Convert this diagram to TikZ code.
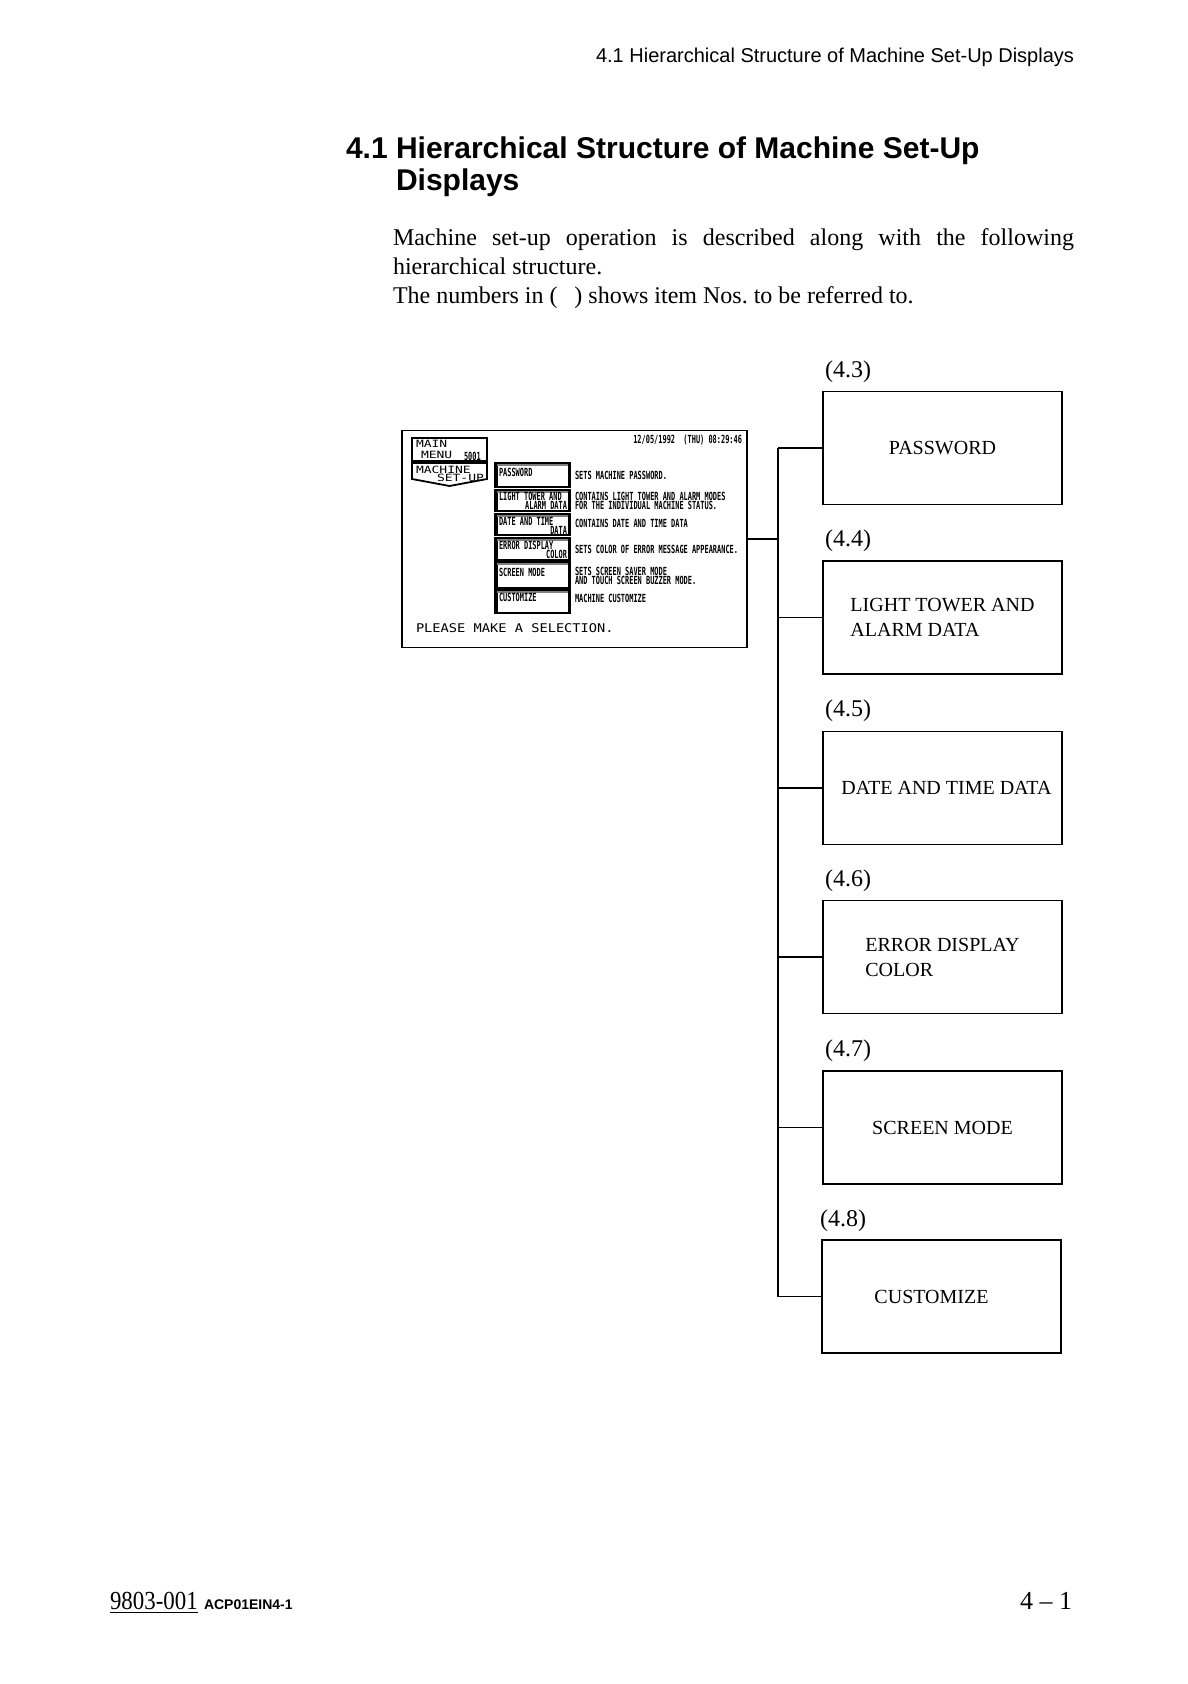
\documentclass[tikz,border=0pt]{standalone}
\usepackage{fontspec}
\setmainfont{Liberation Serif}
\setsansfont{Liberation Sans}
\newfontfamily\scrfont{DejaVu Sans Mono}
\newcommand{\scrB}[1]{\scalebox{0.62}[1]{\scrfont\bfseries\fontsize{5.6}{5.6}\selectfont #1}}
\newcommand{\scrR}[1]{\scalebox{1.14}[1]{\scrfont\fontsize{6}{6}\selectfont #1}}
\newcommand{\scrT}[1]{\scalebox{1.3}[1]{\scrfont\fontsize{5}{5}\selectfont #1}}
\begin{document}
\begin{tikzpicture}[x=0.5pt,y=-0.5pt,
  every node/.style={inner sep=0pt, outer sep=0pt},
  itembox/.style={draw, line width=0.75pt, minimum width=119.5pt, minimum height=56.5pt,
     align=left, font=\fontsize{10}{12.5}\selectfont},
  refno/.style={anchor=west, font=\fontsize{12}{14}\selectfont},
  link/.style={line width=0.65pt},
  tab/.style={line width=0.9pt},
  button/.style={line width=0.6pt},
  buttonside/.style={line width=1.5pt},
]
\useasboundingbox (0,0) rectangle (1187,1684);

% running header
\node[anchor=east, font=\sffamily\fontsize{10}{12}\selectfont] (hdr) at (1074,57)
  {4.1 Hierarchical Structure of Machine Set-Up Displays};

% title
\node[anchor=base west, font=\sffamily\bfseries\fontsize{15}{18}\selectfont] (title1) at (346,159)
  {4.1 Hierarchical Structure of Machine Set-Up};
\node[anchor=base west, font=\sffamily\bfseries\fontsize{15}{18}\selectfont] (title2) at (396,191)
  {Displays};

% body text
\node[anchor=base west, text width=340.5pt, align=justify, font=\fontsize{12}{14.3}\selectfont] (body) at (393,246)
  {\tolerance=9999 \hyphenpenalty=10000 \exhyphenpenalty=10000 \frenchspacing
   Machine set-up operation is described along with the following hierarchical structure.\par
   The numbers in (\hspace{0.7em}) shows item Nos. to be referred to.};

% ---------- screen mock-up ----------
\node[draw, line width=0.6pt, minimum width=172.5pt, minimum height=108.5pt] (screen) at (574.5,539) {};

\draw[tab] (412,438) rectangle (487,461);
\draw[tab] (412,463) -- (487,463) -- (487,479) -- (449.5,486) -- (412,479) -- cycle;
\node[anchor=west] (smain) at (416,444) {\scrT{MAIN}};
\node[anchor=west] (smenu) at (421,455) {\scrT{MENU}};
\node[anchor=west] (snum) at (464,456) {\scrB{5001}};
\node[anchor=west] (smach) at (416,469.5) {\scrT{MACHINE}};
\node[anchor=west] (sset) at (437,477.5) {\scrT{SET-UP}};

\node[anchor=east] (sdate) at (742,440) {\scrB{12/05/1992 \ (THU) 08:29:46}};

\foreach \ya/\yb in {463/487, 490/511, 514/535, 538/560, 562/588, 590/613}{
  \draw[button] (495,\ya) rectangle (570,\yb);
  \draw[buttonside] (496,\ya) -- (496,\yb);
  \draw[buttonside] (569,\ya) -- (569,\yb);
  \draw[line width=1pt, gray] (497,\ya+1.5) -- (568,\ya+1.5);
}

\node[anchor=west] (bp) at (499,472) {\scrB{PASSWORD}};
\node[anchor=west] (bl1) at (499,496) {\scrB{LIGHT TOWER AND}};
\node[anchor=east] (bl2) at (567,505) {\scrB{ALARM DATA}};
\node[anchor=west] (bd1) at (499,521) {\scrB{DATE AND TIME}};
\node[anchor=east] (bd2) at (567,530) {\scrB{DATA}};
\node[anchor=west] (be1) at (499,545) {\scrB{ERROR DISPLAY}};
\node[anchor=east] (be2) at (567,554) {\scrB{COLOR}};
\node[anchor=west] (bs) at (499,572) {\scrB{SCREEN MODE}};
\node[anchor=west] (bc) at (499,597) {\scrB{CUSTOMIZE}};

\node[anchor=west] (dp) at (575,475) {\scrB{SETS MACHINE PASSWORD.}};
\node[anchor=west] (dl1) at (575,496) {\scrB{CONTAINS LIGHT TOWER AND ALARM MODES}};
\node[anchor=west] (dl2) at (575,505) {\scrB{FOR THE INDIVIDUAL MACHINE STATUS.}};
\node[anchor=west] (dd) at (575,523) {\scrB{CONTAINS DATE AND TIME DATA}};
\node[anchor=west] (de) at (575,549) {\scrB{SETS COLOR OF ERROR MESSAGE APPEARANCE.}};
\node[anchor=west] (ds1) at (575,571) {\scrB{SETS SCREEN SAVER MODE}};
\node[anchor=west] (ds2) at (575,580) {\scrB{AND TOUCH SCREEN BUZZER MODE.}};
\node[anchor=west] (dc) at (575,598) {\scrB{MACHINE CUSTOMIZE}};

\node[anchor=west] (sel) at (416,628) {\scrR{PLEASE MAKE A SELECTION.}};

% ---------- hierarchy boxes ----------
\node[refno] (r3) at (825,372) {(4.3)};
\node[itembox] (b3) at (942.5,448) {PASSWORD};
\node[refno] (r4) at (825,541) {(4.4)};
\node[itembox] (b4) at (942.5,617.5) {LIGHT TOWER AND\\ALARM DATA};
\node[refno] (r5) at (825,711) {(4.5)};
\node[itembox] (b5) at (942.5,788) {\kern4pt DATE AND TIME DATA};
\node[refno] (r6) at (825,881) {(4.6)};
\node[itembox] (b6) at (942.5,957) {ERROR DISPLAY\\COLOR};
\node[refno] (r7) at (825,1051) {(4.7)};
\node[itembox] (b7) at (942.5,1127.5) {SCREEN MODE};
\node[refno] (r8) at (820,1221) {(4.8)};
\node[itembox] (b8) at (941.5,1296.5) {CUSTOMIZE\kern10pt};

% connectors
\draw[link] (b3.west) -- ++(-45,0) coordinate (ttop);
\draw[link] (b8.west) -- ++(-44,0) coordinate (tbot);
\draw[link] (ttop) -- (tbot);
\foreach \b in {b4,b5,b6,b7} \draw[link] (\b.west) -- (\b.west -| ttop);
\draw[link] (screen.east) -- (screen.east -| ttop);

% footer
\node[anchor=base west, font=\fontsize{13}{15}\selectfont] (docno) at (110,1609)
  {\scalebox{0.88}[1]{\underline{9803-001}}};
\node[anchor=base west, font=\sffamily\bfseries\fontsize{7}{8}\selectfont] (code) at (204,1609) {ACP01EIN4-1};
\node[anchor=base east, font=\fontsize{13}{15}\selectfont] (pageno) at (1072,1609) {4 -- 1};
\end{tikzpicture}
\end{document}
